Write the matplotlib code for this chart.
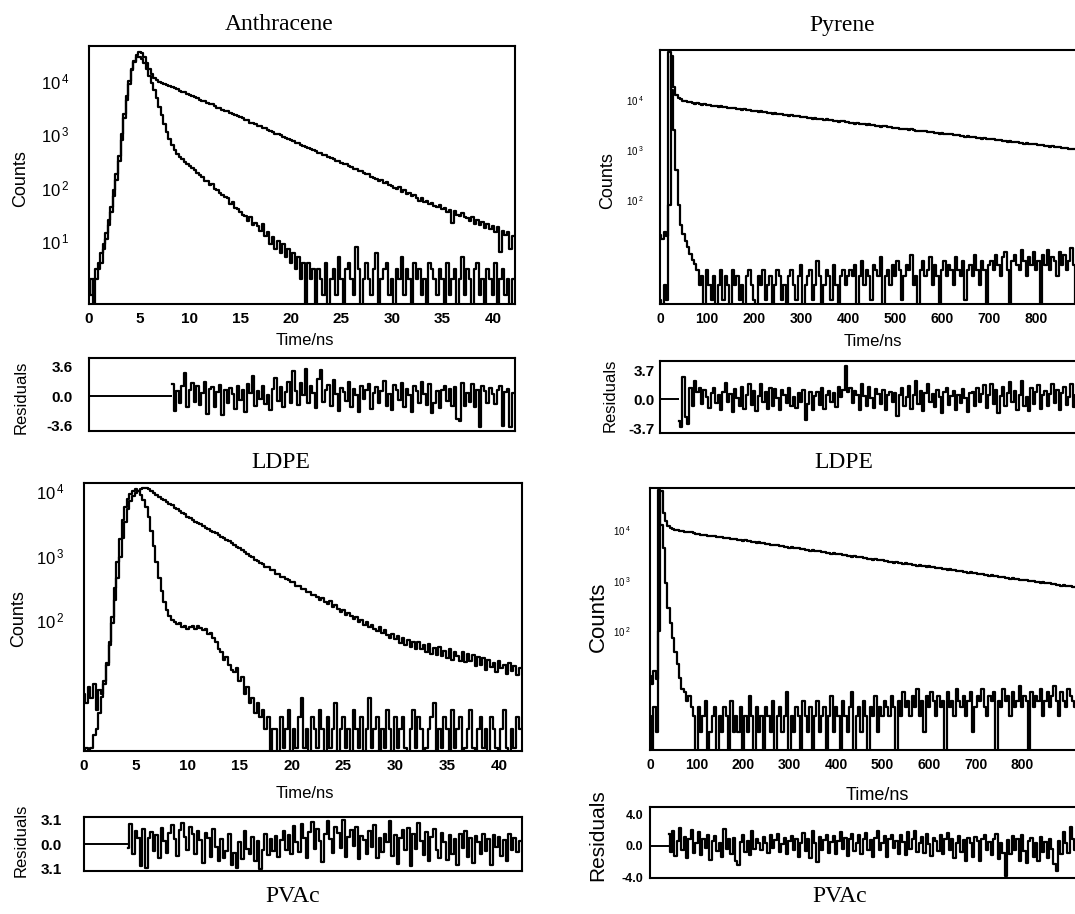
import numpy as np
import matplotlib.pyplot as plt

plt.rcParams['font.family'] = ['Liberation Sans', 'DejaVu Sans']
plt.rcParams['mathtext.fontset'] = 'custom'
plt.rcParams['mathtext.rm'] = 'Liberation Sans:bold'

# channel widths (ns)
dt_anth = 0.25
dt_pyr = 5.0

# ---- Anthracene in LDPE: log10(counts), -1 = empty channel ----
anth_ldpe_decay = [0.0, 0.3, -1, 0.3, 0.48, 0.6, 0.85, 1.05, 1.3, 1.55, 1.85, 2.15, 2.5, 2.9, 3.3, 3.65, 3.95, 4.2, 4.37, 4.49,
                   4.54, 4.52, 4.45, 4.34, 4.22, 4.12, 4.05, 4.01, 3.98, 3.96,
                   3.94, 3.92, 3.91, 3.88, 3.86, 3.85, 3.82, 3.80, 3.79, 3.76, 3.74, 3.72, 3.69, 3.68, 3.65, 3.63, 3.62, 3.59, 3.57, 3.56,
                   3.53, 3.50, 3.49, 3.46, 3.44, 3.43, 3.40, 3.38, 3.37, 3.34,
                   3.32, 3.30, 3.27, 3.26, 3.22, 3.21, 3.19, 3.16, 3.15, 3.12, 3.11, 3.08, 3.06, 3.05, 3.01, 3.00, 2.98, 2.95, 2.94, 2.92,
                   2.89, 2.88, 2.84, 2.83, 2.80, 2.79, 2.76, 2.75, 2.72, 2.71,
                   2.69, 2.66, 2.65, 2.62, 2.61, 2.57, 2.56, 2.54, 2.50, 2.51, 2.47, 2.44, 2.45, 2.40, 2.39, 2.36, 2.35, 2.31, 2.32, 2.27,
                   2.25, 2.26, 2.20, 2.19, 2.17, 2.12, 2.15, 2.09, 2.10, 2.05,
                   2.03, 2.00, 1.97, 2.01, 1.93, 1.95, 1.88, 1.90, 1.84, 1.86, 1.80, 1.76, 1.80, 1.73, 1.75, 1.69, 1.72, 1.66, 1.64, 1.68,
                   1.60, 1.63, 1.55, 1.58, 1.35, 1.56, 1.50, 1.48, 1.53, 1.45,
                   1.43, 1.38, 1.45, 1.33, 1.40, 1.30, 1.36, 1.25, 1.32, 1.22, 1.28, 1.18, 1.26, 0.80, 1.20, 1.12, 1.18, 0.85, 1.10]
anth_ldpe_irf = [0.3, 0.0, 0.3, 0.48, 0.6, 0.78, 0.95, 1.15, 1.4, 1.65, 1.95, 2.25, 2.6, 3.0, 3.38, 3.72, 4.0, 4.22, 4.36, 4.44,
                 4.45, 4.41, 4.33, 4.22, 4.10, 3.97, 3.83, 3.68, 3.52, 3.36, 3.20, 3.05, 2.92, 2.80, 2.71, 2.64,
                 2.58, 2.54, 2.49, 2.45, 2.40, 2.37, 2.33, 2.27, 2.24, 2.20, 2.13, 2.12, 2.05, 2.07, 1.98, 1.95, 1.90, 1.86, 1.82, 1.80,
                 1.70, 1.74, 1.62, 1.60, 1.55, 1.50, 1.48, 1.38, 1.45, 1.30, 1.35, 1.28, 1.20, 1.32, 1.10, 1.18, 0.95, 1.08, 0.85, 1.0,
                 0.78, 0.95, 0.70, 0.85, 0.6, 0.78, 0.48, 0.7, 0.3, 0.6, -1, 0.6, 0.3, 0.48,
                 -1, 0.48, 0.3, 0, 0.6, -1, 0.3, 0.48, 0, 0.7, 0.3, -1, 0.48, 0.6, 0.3, 0, 0.9, 0.48, -1, 0.3,
                 0.6, 0.3, 0, 0.48, 0.78, -1, 0.3, 0.48, 0.6, 0, 0.3, -1, 0.48, 0.3, 0.7, 0, 0.48, 0.3, -1, 0.6,
                 0.3, 0.48, 0, 0.3, -1, 0.6, 0.48, 0.3, 0, 0.48, 0.3, -1, 0.6, 0, 0.3, 0.48, -1, 0.3, 0.7, 0,
                 0.48, 0.3, -1, 0.48, 0.6, 0, 0.3, -1, 0.48, 0.3, 0, 0.6, -1, 0.3, 0.48, 0, 0.3, -1, 0.3]
anth_ldpe_fit_start = 8.25
anth_ldpe_resid = [1.5, -1.8, 0.6, -0.9, 1.2, 2.9, -1.4, 0.8, 1.6, -0.7, 1.3, -1.1, 0.4, 1.7, -2.2, 0.9, 1.1, -1.3, 0.5, 1.4,
                   -2.3, 0.7, -0.8, 1.0, 0.3, -1.6, 1.2, -0.5, 0.8, -1.9, 1.5, 0.4, 2.5, -1.2, 0.6, -0.4, 1.3, -1.0, 0.2, -1.7,
                   0.9, 2.2, -0.6, 1.1, -1.4, 0.5, 1.8, -0.8, 3.1, 0.6, -1.1, 1.6, 0.2, 3.3, -0.9, 1.2, 0.4, -1.5, 2.1, 3.2,
                   -0.7, 0.8, 1.4, -1.2, 2.0, 0.3, -1.8, 1.0, 0.5, -0.6, 1.7, -1.3, 0.9, 0.2, -2.0, 1.3, -0.4, 0.7, 1.5, -1.6,
                   0.4, 1.1, -0.9, 0.6, 1.9, -1.2, 0.3, -1.7, 1.4, 0.8, -0.5, 1.6, -1.3, 0.9, 0.1, -1.9, 1.2, 0.6, -0.8, 1.8,
                   0.3, -1.1, 1.5, -2.1, -0.8, 0.6, -1.5, 0.7, 1.3, -0.6, 0.9, -1.2, 1.1, -2.8, -3.1, 1.6, -1.2, 0.4, -0.7, 1.5,
                   -1.4, 0.8, -3.8, 1.2, 0.6, -0.9, 1.0, 0.3, -1.0, 0.7, 1.2, -3.7, 0.5, 0.9, -3.8, 0.4]

# ---- Anthracene in PVAc ----
anth_pvac_decay = [0.85, 0.7, 0.95, 0.78, 1.0, 0.6, 0.9, 0.85, 1.0, 1.3, 1.6, 1.95, 2.3, 2.65, 2.97, 3.27, 3.52, 3.72, 3.85, 3.93,
                   3.98, 4.01, 4.03, 4.05, 4.05, 4.04, 4.01, 3.98, 3.94, 3.91,
                   3.88, 3.86, 3.83, 3.80, 3.78, 3.74, 3.72, 3.69, 3.66, 3.64, 3.60, 3.58, 3.56, 3.53, 3.50, 3.49, 3.46, 3.43, 3.42, 3.39,
                   3.36, 3.35, 3.32, 3.29, 3.28, 3.24, 3.23, 3.19, 3.17, 3.13,
                   3.11, 3.09, 3.05, 3.03, 2.99, 2.98, 2.93, 2.92, 2.88, 2.87, 2.82, 2.82, 2.77, 2.77, 2.72, 2.72, 2.67, 2.67, 2.63, 2.62,
                   2.58, 2.58, 2.53, 2.53, 2.48, 2.48, 2.43, 2.43, 2.39, 2.38,
                   2.36, 2.31, 2.34, 2.28, 2.24, 2.29, 2.20, 2.23, 2.17, 2.12, 2.15, 2.08, 2.11, 2.06, 2.01, 2.05, 1.97, 2.00, 1.92, 1.96,
                   1.88, 1.92, 1.85, 1.83, 1.88, 1.79, 1.84, 1.76, 1.72, 1.78,
                   1.70, 1.75, 1.64, 1.72, 1.61, 1.69, 1.58, 1.66, 1.55, 1.65, 1.54, 1.60, 1.50, 1.62, 1.47, 1.56, 1.45, 1.58, 1.43, 1.52,
                   1.40, 1.55, 1.38, 1.50, 1.44, 1.36, 1.49, 1.34, 1.46, 1.35,
                   1.45, 1.28, 1.42, 1.30, 1.40, 1.22, 1.38, 1.27, 1.33, 1.18, 1.36, 1.24, 1.30, 1.15, 1.32, 1.20, 1.28, 1.14, 1.25]
anth_pvac_irf = [-1, 0, -1, 0, 0.2, 0.3, 0.55, 0.8, 1.05, 1.32, 1.65, 2.05, 2.5, 2.9, 3.25, 3.55, 3.75, 3.88, 3.96, 4.01,
                 4.03, 4.01, 3.95, 3.86, 3.76, 3.6, 3.38, 3.15, 2.9, 2.65, 2.45, 2.28, 2.15, 2.06, 2.0, 1.97, 1.93, 1.95, 1.88, 1.9,
                 1.86, 1.88, 1.9, 1.85, 1.9, 1.87, 1.84, 1.86, 1.78, 1.8, 1.72, 1.65, 1.55, 1.5, 1.38, 1.42, 1.3, 1.22, 1.18, 1.25,
                 1.05, 1.1, 0.85, 0.95, 0.7, 0.78, 0.55, 0.7, 0.48, 0.6, 0.3, 0.48, -1, 0.3,
                 0.3, -1, 0.48, 0, 0.3, 0.6, -1, 0.3, 0, 0.48, 0.78, 0, 0.3, -1, 0.48, 0.3, 0, 0.6, 0.3, -1,
                 0.48, 0, 0.3, 0.7, -1, 0.3, 0.48, 0, 0.3, -1, 0.6, 0.3, 0, 0.48, -1, 0.3, 0.78, 0, 0.3, 0.48,
                 -1, 0.3, 0, 0.6, 0.3, -1, 0.48, 0, 0.3, 0.48, 0, -1, 0.3, 0.6, 0, 0.48, 0.3, -1, 0, 0.3,
                 0.48, 0.7, -1, 0.3, 0, 0.48, 0.3, -1, 0.6, 0, 0.3, 0.48, -1, 0, 0.3, 0.6, 0, -1, 0.3, 0.48,
                 0, 0.3, -1, 0.48, 0.3, 0, -1, 0.3, 0.6, 0, -1, 0.3, 0, 0.48, 0.3]
anth_pvac_fit_start = 4.25
anth_pvac_resid = [-0.5, 2.5, -1.2, 1.6, 0.8, -2.8, 1.9, -3.0, 0.7, 1.5, -0.9, 1.1, -1.8, 2.0, 0.4, -1.1, 1.4, 2.4, 0.6, -1.5,
                   1.8, 2.6, 0.9, -0.8, 2.2, 1.3, -1.3, 1.7, 0.5, -2.4, 1.4, 0.8, -1.6, 1.9, -0.4, -2.2, 0.6, -1.7, -0.9, 1.2,
                   -2.6, -1.1, -3.0, 0.3, -1.9, 1.6, -0.6, -1.3, 0.9, -2.1, 0.4, -3.1, -0.8, 1.3, -1.4, 0.6, -0.9, 1.0, -1.6, 0.5,
                   1.7, -0.7, 1.1, -1.2, 2.3, 0.3, -1.0, 2.5, 0.8, -1.8, 1.5, 2.8, -0.6, 1.9, 0.4, -2.3, 1.2, 2.9, 0.6, -1.1,
                   2.1, 1.4, -0.5, 3.0, -1.6, 0.9, 1.8, -0.3, 2.2, -1.9, 1.0, 0.5, -1.3, 1.6, -0.4, 2.4, -1.7, 0.8, -1.0, 1.3,
                   0.2, 2.9, -1.5, 1.1, -2.5, 0.7, 1.8, -0.8, 2.0, -2.8, 1.2, -0.6, 2.6, 0.4, -1.4, 1.5, -2.2, 0.9, 1.9, -0.7,
                   -1.8, 1.4, 0.3, -2.0, 1.1, -1.2, 0.6, -2.7, 1.3, -0.5, 1.6, -1.6, 0.8, -2.4, 1.0, 0.2, -1.3, 1.2, -0.9, 0.6,
                   -2.6, 1.1, -0.4, 0.9, -1.5, 0.5, -2.1, 1.3, -0.8, 0.7, -1.0, 0.4]

# ---- Pyrene in LDPE ----
pyr_ldpe_decay = [1.3, 1.22, 1.35, 1.28, 1.9, 4.88, 4.25, 4.1, 4.04, 4.01, 3.98, 3.97, 3.95, 3.95,
                  3.93, 3.92, 3.93, 3.91, 3.90, 3.91, 3.89, 3.90, 3.88, 3.88, 3.88, 3.86, 3.87, 3.85, 3.85, 3.84, 3.84, 3.83,
                  3.83, 3.82, 3.82, 3.80, 3.81, 3.79, 3.80, 3.78, 3.78, 3.78, 3.76, 3.77, 3.75, 3.75, 3.74, 3.74, 3.72, 3.73,
                  3.72, 3.72, 3.71, 3.70, 3.70, 3.68, 3.69, 3.67, 3.67, 3.67, 3.66, 3.66, 3.65, 3.64, 3.64, 3.62, 3.63, 3.61,
                  3.62, 3.62, 3.60, 3.61, 3.59, 3.59, 3.57, 3.58, 3.56, 3.57, 3.57, 3.55, 3.55, 3.54, 3.54, 3.52, 3.53, 3.51,
                  3.52, 3.52, 3.50, 3.51, 3.49, 3.49, 3.47, 3.48, 3.46, 3.47, 3.47, 3.45, 3.46, 3.44, 3.43, 3.43, 3.42, 3.42,
                  3.42, 3.42, 3.40, 3.41, 3.39, 3.38, 3.38, 3.37, 3.37, 3.37, 3.36, 3.36, 3.35, 3.34, 3.34, 3.32, 3.33, 3.31,
                  3.32, 3.31, 3.31, 3.30, 3.29, 3.29, 3.27, 3.28, 3.26, 3.27, 3.26, 3.26, 3.25, 3.24, 3.24, 3.22, 3.23, 3.21,
                  3.22, 3.21, 3.21, 3.20, 3.19, 3.19, 3.17, 3.18, 3.16, 3.17, 3.16, 3.16, 3.15, 3.14, 3.14, 3.12, 3.13, 3.11,
                  3.12, 3.11, 3.11, 3.10, 3.09, 3.09, 3.07, 3.08, 3.06, 3.07, 3.06, 3.06, 3.05, 3.04, 3.03, 3.03, 3.02, 3.01,
                  3.02, 3.01, 3.01, 3.00, 2.99, 2.99, 2.97, 2.98, 2.96, 2.97, 2.96, 2.96, 2.95, 2.94, 2.94, 2.93]
pyr_ldpe_irf = [0, -1, 0.3, 0, 4.95, 4.2, 3.4, 2.6, 1.9, 1.5, 1.32, 1.18, 1.05, 0.92, 0.8, 0.72, 0.6,
                0.3, 0.48, -1, 0.6, 0.3, 0, 0.48, -1, 0.3, 0.6, 0, 0.48, 0.3, -1, 0.6, 0.3, 0.48, 0, 0.3, -1,
                0.48, 0.6, 0.3, 0, -1, 0.48, 0.3, 0.6, 0, 0.3, 0.48, -1, 0.3, 0.6, 0.48, 0, 0.3, -1, 0.48, 0.6,
                0.3, 0, 0.48, 0.7, -1, 0.3, 0.48, 0.6, 0, 0.3, 0.78, 0.48, -1, 0.3, 0.6, 0.48, 0, 0.7, 0.3, -1,
                0.48, 0.6, 0.3, 0.48,
                0.6, 0.48, 0.7, -1, 0.48, 0.78, 0.3, 0.6, 0.48, 0, 0.7, 0.6, 0.48, 0.85, -1, 0.48, 0.6, 0.3, 0.7, 0.48,
                0.78, 0.6, 0, 0.48, 0.7, 0.6, 0.9, 0.3, 0.48, -1, 0.6, 0.78, 0.48, 0.6, 0.85, 0.3, 0.7, 0.48, -1, 0.6,
                0.78, 0.48, 0.7, 0.6, 0.3, 0.85, 0.6, 0.48, 0.78, 0, 0.6, 0.7, 0.48, 0.9, 0.6, 0.3, 0.78, 0.6, -1, 0.7,
                0.78, 0.6, 0.9, 0.7, 0.48, 0.85, 0.95, 0.6, -1, 0.78, 0.9, 0.7, 0.6, 1.0, 0.78, 0.48, 0.85, 0.7, 0.95, 0.6,
                0.78, -1, 0.9, 0.7, 1.0, 0.6, 0.85, 0.78, 0.48, 0.95, 0.7, 0.9, 0.6, 0.78, 1.04, 0.7, -1, 0.85, 0.6, 0.9,
                0.78, 0.95, 0.7, 0.6, 0.9, 1.0, 0.78, 0.48, 0.85, 0.7, 0.9]
pyr_ldpe_fit_start = 40.0
pyr_ldpe_resid = [-2.8, -3.5, 2.9, -2.2, -3.2, 1.5, -0.8, 2.3, 0.9, 1.4, -0.6, 1.2, 0.3, -1.1, 0.8, 1.4, -0.5, 0.6, -1.3, 1.0,
                  2.1, -0.4, 0.7, -1.6, 1.3, 0.2, -0.9, 1.6, -1.2, 0.5, 1.9, -0.7, 1.1, -1.5, 0.4, 2.0, -0.3, 0.9, -1.2, 1.4,
                  -0.8, 1.3, 0.2, -1.4, 1.2, 0.6, -0.5, 1.5, -0.9, 0.3, -1.1, 0.8, -0.4, 1.2, -2.6, -0.6, 0.9, -1.3, 0.4, 1.0,
                  -0.7, 1.4, -1.2, 0.5, 1.1, -0.4, 0.8, -1.0, 1.6, 0.3, 1.2, 4.2, 0.9, 1.5, -0.5, 1.1, 0.6, -1.3, 1.9, 0.4,
                  -0.8, 1.6, 0.2, -1.1, 1.3, 0.7, -0.6, 1.2, -1.4, 0.5, 1.0, -0.3, 0.8, -2.1, 0.6, 1.4, -0.9, 0.3, 1.7, -1.2,
                  0.5, 2.3, -0.6, 1.1, -1.5, 0.8, 1.9, -0.4, 0.7, -1.0, 1.2, 0.3, -1.8, 0.9, 1.5, -0.7, 0.4, 1.1, -1.3, 0.6,
                  -0.5, 1.3, 0.2, -1.6, 0.8, 1.0, -0.8, 1.4, -0.3, 0.7, 1.8, -1.1, 0.5, 2.0, -0.6, 1.2, -1.7, 0.4, 1.6, -0.9,
                  0.8, 2.2, -0.4, 1.1, -1.3, 0.6, 2.4, -0.8, 0.3, -1.5, 1.4, -0.6, 0.9, 1.8, -1.2, 0.5, 1.1, -0.9, 0.7, 2.0,
                  -0.5, 1.2, -1.4, 0.8, 1.6, -0.7, 0.3, 1.9, -1.0, 0.6, 1.3, -0.8, 0.9, -1.6, 1.5, 0.4, -0.9, 1.2, 0.2, -1.1,
                  0.8, 1.4, -0.5, 1.0]

# ---- Pyrene in PVAc ----
pyr_pvac_decay = [1.1, 0.95, 1.2, 1.05, 2.0, 4.78, 4.35, 4.18, 4.08, 4.04, 4.02, 4.01, 4.0, 3.99,
                  3.98, 3.97, 3.97, 3.96, 3.96, 3.95, 3.94, 3.93, 3.92, 3.91, 3.91, 3.90,
                  3.90, 3.89, 3.90, 3.88, 3.87, 3.88, 3.86, 3.86, 3.85, 3.84, 3.84, 3.83, 3.82, 3.82, 3.80, 3.81, 3.79, 3.79,
                  3.78, 3.78, 3.76, 3.77, 3.75, 3.75, 3.73, 3.74, 3.72, 3.72, 3.71, 3.71, 3.69, 3.70, 3.68, 3.68, 3.66, 3.67,
                  3.66, 3.65, 3.65, 3.63, 3.64, 3.62, 3.62, 3.60, 3.61, 3.60, 3.59, 3.59, 3.57, 3.58, 3.56, 3.56, 3.54, 3.55,
                  3.54, 3.53, 3.53, 3.51, 3.52, 3.50, 3.50, 3.48, 3.49, 3.48, 3.47, 3.47, 3.45, 3.46, 3.44, 3.44, 3.42, 3.43,
                  3.42, 3.41, 3.41, 3.39, 3.40, 3.38, 3.38, 3.36, 3.37, 3.36, 3.36, 3.34, 3.35, 3.33, 3.33, 3.31, 3.32, 3.30,
                  3.31, 3.30, 3.30, 3.28, 3.29, 3.27, 3.27, 3.25, 3.26, 3.25, 3.24, 3.24, 3.22, 3.23, 3.21, 3.21, 3.19, 3.20,
                  3.19, 3.18, 3.18, 3.16, 3.17, 3.15, 3.15, 3.13, 3.14, 3.13, 3.12, 3.12, 3.10, 3.11, 3.09, 3.09, 3.07, 3.08,
                  3.07, 3.06, 3.06, 3.04, 3.05, 3.03, 3.03, 3.01, 3.02, 3.02, 3.01, 3.00, 2.99, 3.00, 2.98, 2.97, 2.96, 2.97,
                  2.96, 2.95, 2.95, 2.93, 2.94, 2.92, 2.92, 2.90, 2.91, 2.90, 2.89, 2.89, 2.87, 2.88, 2.86, 2.86, 2.84, 2.85]
pyr_pvac_irf = [0.3, -1, 0.48, 0, 4.8, 4.1, 3.65, 2.95, 2.45, 2.15, 1.86, 1.58, 1.35, 1.06, 0.85, 0.78, 0.6, 0.7, 0.48,
                0.3, -1, 0.48, 0, 0.3, 0.6, -1, 0, 0.3, 0.48, -1, 0.3, 0, 0.48, 0.3, -1, 0.6, 0, 0.3, 0,
                0.48, -1, 0.3, 0, 0.7, 0.3, -1, 0.48, 0, 0.3, -1, 0.48, 0.3, 0, 0.6, -1, 0.3, 0.48, 0, 0.3,
                0.78, -1, 0.3, 0, 0.48, 0.3, -1, 0.6, 0.3, 0, 0.48, -1, 0.3, 0.6, 0, 0.3, 0.48, -1, 0.3, 0.7,
                0, 0.48, 0.3, -1, 0.6, 0.3, 0, 0.48, 0.78, -1, 0.3, 0.48, 0, 0.6, 0.3, -1, 0.48, 0.3, 0.7, 0,
                0.48, 0.3,
                0.6, 0.48, 0.3, 0.7, 0.48, -1, 0.6, 0.3, 0.78, 0.48, 0.6, 0.3, 0.7, 0.48, 0.85, 0.3, 0.6, 0, 0.7, 0.48,
                0.78, 0.6, 0.3, 0.7, 0.48, 0.6, -1, 0.78, 0.48, 0.6, 0.3, 0.85, 0.6, 0.48, 0.7, 0.3, 0.6, 0.78, 0, 0.48,
                0.7, 0.6, 0.85, 0.48, 0.3, 0.7, 0.6, 0.78, -1, 0.6, 0.48, 0.85, 0.6, 0.7, 0.3, 0.78, 0.48, 0.6, 0.9, 0.48,
                0.7, 0.6, -1, 0.78, 0.48, 0.7, 0.6, 0.85, 0.3, 0.6, 0.78, 0.48, 0.7, 0.9, 0.6, 0.3, 0.78, 0.6, 0.48, 0.85,
                0.7, 0.6, 0.48, 0.78, 0.6, 0.9, 0.7]
pyr_pvac_fit_start = 40.0
pyr_pvac_resid = [1.5, -0.8, 1.9, -1.3, 0.6, 2.2, -0.5, 1.1, -1.6, 0.8, 2.0, -0.9, 0.4, 1.7, -1.2, 0.9, -0.3, 1.4, -1.8, 0.6,
                  1.2, -0.7, 0.3, -1.5, 2.1, -0.4, 0.8, -1.1, 1.0, -2.0, -2.5, 0.5, 1.3, -0.8, 0.6, -1.2, 1.8, -0.4, 0.9, 0.3,
                  -0.6, 1.1, 0.4, -0.9, 1.3, -0.3, 0.7, 1.5, -0.8, 0.2, 1.0, -1.1, 0.6, 1.2, -0.5, 0.8, -1.4, 0.4, 1.6, -0.7,
                  0.9, -1.6, 1.9, 0.3, -2.1, 1.1, -0.6, 0.7, 1.3, -0.9, 0.5, 1.2, -1.0, 0.6, 1.7, -0.4, 1.0, -1.3, 0.8, 1.5,
                  -0.7, 0.4, 1.3, -1.1, 0.9, 1.6, -0.5, 0.7, -1.4, 1.0, 1.8, -0.6, 0.3, 1.2, -1.5, 0.8, 1.4, -0.3, 0.6, -1.0,
                  1.3, 0.5, -1.2, 1.7, -0.4, 0.9, 1.9, -0.8, 0.4, 1.1, -0.9, 1.5, 0.2, -1.3, 1.0, 0.6, -0.7, 1.4, -1.1, 0.8,
                  1.6, -0.5, 0.9, -1.6, 0.4, 1.2, -0.8, 0.7, -1.9, 1.0, 0.3, -1.4, 1.1, 0.6, -2.0, 0.8, 1.3, -0.6, 0.5, -1.2,
                  0.9, 1.5, -1.7, 0.4, -0.9, -3.8, 0.7, -1.1, 1.2, -0.5, 0.8, -1.9, 1.4, -0.7, -2.2, 0.6, 1.0, -1.5, 0.3, -2.0,
                  1.1, -0.8, 0.5, -1.6, 0.9, -0.4, -2.3, -3.2, 0.6, -1.0, 1.7, 0.4, -0.9, 2.4, 0.8, -0.6, 1.5, 0.2, -1.1, 0.7]

# tick labels
anth_xticks = [0, 5, 10, 15, 20, 25, 30, 35, 40]
pyr_xticks = [0, 100, 200, 300, 400, 500, 600, 700, 800]

W, H = 1075, 914
fig = plt.figure(figsize=(W / 100, H / 100), dpi=100)
LW = 1.6


def box(l, t, r, b):
    return [l / W, 1 - b / H, (r - l) / W, (b - t) / H]


def put(x, y, s, **kw):
    fig.text(x / W, 1 - y / H, s, ha='center', va='center', **kw)


def style(ax, lw=1.5):
    for sp in ax.spines.values():
        sp.set_linewidth(lw)
    ax.minorticks_off()


def decay_panel(pos, dt, decay, irf, xlim, ylim, yticks, ylabels, xticks,
                xfs, yfs, ypad):
    ax = fig.add_axes(pos)
    for series in (decay, irf):
        t = np.arange(len(series)) * dt
        ax.plot(t, 10.0 ** np.array(series), color='black', lw=LW,
                drawstyle='steps-mid')
    ax.set_yscale('log')
    ax.set_xlim(xlim)
    ax.set_ylim(ylim)
    style(ax)
    ax.set_xticks(xticks)
    ax.set_xticklabels([str(v) for v in xticks], fontsize=xfs, fontweight='bold')
    ax.set_yticks(yticks)
    ax.set_yticklabels(ylabels, fontsize=yfs)
    ax.tick_params(axis='x', length=0, pad=6)
    ax.tick_params(axis='y', length=0, pad=ypad)
    return ax


def resid_panel(pos, dt, start, resid, xlim, ylim, ticks, labels, fs, pad):
    ax = fig.add_axes(pos)
    t = start + np.arange(len(resid)) * dt
    ax.plot(t, resid, color='black', lw=LW, drawstyle='steps-mid')
    ax.hlines(0, xlim[0], start, color='black', lw=1.4)
    ax.set_xlim(xlim)
    ax.set_ylim(ylim)
    style(ax)
    ax.set_xticks([])
    ax.set_yticks(ticks)
    ax.set_yticklabels(labels, fontsize=fs, fontweight='bold')
    ax.tick_params(axis='y', length=0, pad=pad)
    return ax


def pw(n):
    return r'$\mathregular{10^{\,%d}}$' % n


# Anthracene / LDPE
decay_panel(box(89, 46, 515, 304), dt_anth, anth_ldpe_decay, anth_ldpe_irf,
            (0, 42.2), (0.67, 45000), [10, 100, 1000, 10000],
            [pw(1), pw(2), pw(3), pw(4)], anth_xticks, 11, 12, 14)
resid_panel(box(89, 358, 515, 431), dt_anth, anth_ldpe_fit_start, anth_ldpe_resid,
            (0, 42.2), (-4.3, 4.7), [3.6, 0, -3.6], ['3.6', '0.0', '-3.6'], 11, 12)

# Anthracene / PVAc
decay_panel(box(84, 483, 522, 751), dt_anth, anth_pvac_decay, anth_pvac_irf,
            (0, 42.2), (0.9, 13500), [100, 1000, 10000],
            [pw(2), pw(3), pw(4)], anth_xticks, 11, 12, 14)
resid_panel(box(84, 817, 522, 871), dt_anth, anth_pvac_fit_start, anth_pvac_resid,
            (0, 42.2), (-3.4, 3.4), [3.1, 0, -3.1], ['3.1', '0.0', '3.1'], 11, 16)

# Pyrene / LDPE
decay_panel(box(660, 50, 1110, 304), dt_pyr, pyr_ldpe_decay, pyr_ldpe_irf,
            (0, 957), (0.83, 1e5), [100, 1000, 10000],
            [pw(2), pw(3), pw(4)], pyr_xticks, 10, 7, 12)
resid_panel(box(660, 361, 1110, 433), dt_pyr, pyr_ldpe_fit_start, pyr_ldpe_resid,
            (0, 957), (-4.3, 4.9), [3.7, 0, -3.7], ['3.7', '0.0', '-3.7'], 11, 4)

# Pyrene / PVAc
decay_panel(box(650, 488, 1110, 750), dt_pyr, pyr_pvac_decay, pyr_pvac_irf,
            (0, 989), (0.43, 70000), [100, 1000, 10000],
            [pw(2), pw(3), pw(4)], pyr_xticks, 10, 7, 14)
resid_panel(box(650, 807, 1110, 878), dt_pyr, pyr_pvac_fit_start, pyr_pvac_resid,
            (0, 989), (-4.1, 4.9), [4.0, 0, -4.0], ['4.0', '0.0', '-4.0'], 9, 5)

# titles and axis labels
serif = dict(family='Liberation Serif', fontsize=17)
put(279, 25, 'Anthracene', **serif)
put(842, 25, 'Pyrene', **serif)
put(281, 462, 'LDPE', **serif)
put(844, 462, 'LDPE', **serif)
put(293, 897, 'PVAc', **serif)
put(840, 897, 'PVAc', **serif)

put(305, 341, 'Time/ns', fontsize=12)
put(873, 342, 'Time/ns', fontsize=12)
put(305, 793, 'Time/ns', fontsize=12)
put(877, 795, 'Time/ns', fontsize=13)

put(21, 179, 'Counts', fontsize=13, rotation=90)
put(608, 181, 'Counts', fontsize=13, rotation=90)
put(19, 619, 'Counts', fontsize=13, rotation=90)
put(598, 617, 'Counts', fontsize=16, rotation=90)

put(21, 397, 'Residuals', fontsize=12, rotation=90)
put(610, 395, 'Residuals', fontsize=12, rotation=90)
put(21, 840, 'Residuals', fontsize=12, rotation=90)
put(598, 835, 'Residuals', fontsize=15, rotation=90)

fig.savefig('out.png', dpi=100)
